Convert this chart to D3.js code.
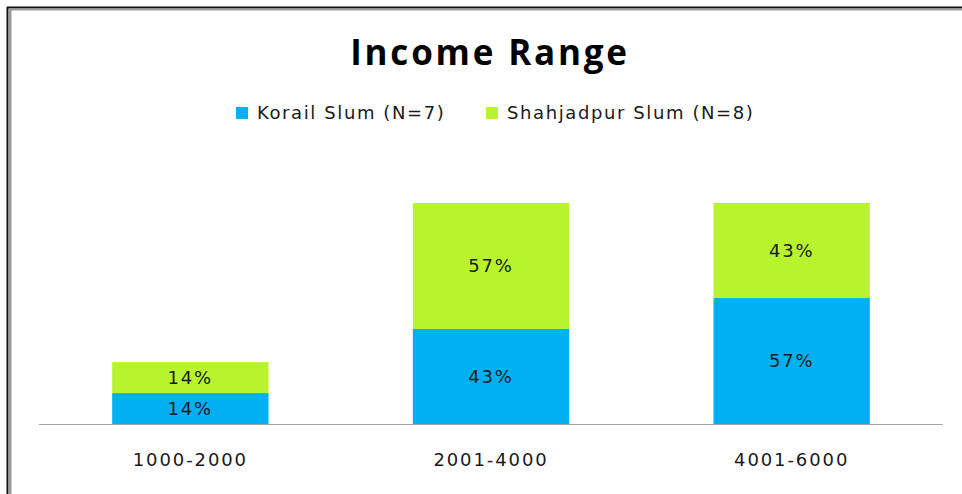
<!DOCTYPE html>
<html>
<head>
<meta charset="utf-8">
<script src="https://cdn.jsdelivr.net/npm/d3@7"></script>
<style>
  body { margin: 0; background: #fff; overflow: hidden; }
  svg { display: block; }
</style>
</head>
<body>
<div id="chart"></div>
<script>
// chart data
var categories = ["1000-2000", "2001-4000", "4001-6000"];
var seriesNames = ["Korail Slum (N=7)", "Shahjadpur Slum (N=8)"];
var korail = [14, 43, 57];
var shahjadpur = [14, 57, 43];
var colors = ["#00b0f0", "#b8f42e"];

var w = 962, h = 494;

var svg = d3.select("#chart").append("svg")
    .attr("width", w)
    .attr("height", h);

// frame round the chart (top and left edges only are visible)
svg.append("line").attr("x1", 7).attr("x2", w).attr("y1", 7.5).attr("y2", 7.5)
    .attr("stroke", "#111").attr("stroke-width", 2);
svg.append("line").attr("x1", 7.5).attr("x2", 7.5).attr("y1", 7).attr("y2", h)
    .attr("stroke", "#111").attr("stroke-width", 2);
svg.append("line").attr("x1", 9).attr("x2", w).attr("y1", 9.5).attr("y2", 9.5)
    .attr("stroke", "#9a9a9a").attr("stroke-width", 2);
svg.append("line").attr("x1", 10).attr("x2", 10).attr("y1", 9).attr("y2", h)
    .attr("stroke", "#9a9a9a").attr("stroke-width", 3);

// title
svg.append("text")
    .attr("x", 490).attr("y", 65)
    .attr("text-anchor", "middle")
    .style("font-family", "'Open Sans', sans-serif")
    .style("font-weight", "bold")
    .style("font-size", "35px")
    .style("letter-spacing", "2.8px")
    .attr("fill", "#000")
    .text("Income Range");

// stack the two series
var rows = categories.map(function(c, i){
    return { cat: c, k: korail[i], s: shahjadpur[i] };
});
var stack = d3.stack().keys(["k", "s"]);
var layers = stack(rows);

var x = d3.scaleBand().domain(categories).range([40, 942])
    .paddingInner(0.48).paddingOuter(0.24);
var y = d3.scaleLinear().domain([0, 100]).range([424, 203]);

var g = svg.append("g");
layers.forEach(function(layer, li){
    g.selectAll(".bar" + li)
        .data(layer)
        .enter()
        .append("rect")
        .attr("x", function(d){ return x(d.data.cat); })
        .attr("y", function(d){ return y(d[1]); })
        .attr("width", x.bandwidth())
        .attr("height", function(d){ return y(d[0]) - y(d[1]); })
        .attr("fill", colors[li]);
    g.selectAll(".lab" + li)
        .data(layer)
        .enter()
        .append("text")
        .attr("x", function(d){ return x(d.data.cat) + x.bandwidth() / 2; })
        .attr("y", function(d){ return (y(d[0]) + y(d[1])) / 2; })
        .attr("dy", "0.36em")
        .attr("text-anchor", "middle")
        .style("font-family", "'DejaVu Sans', sans-serif")
        .style("font-size", "18px")
        .style("letter-spacing", "1.8px")
        .attr("fill", "#1a1a1a")
        .text(function(d){ return (d[1] - d[0]) + "%"; });
});

// x axis
var xAxis = svg.append("g")
    .attr("transform", "translate(0,424)")
    .call(d3.axisBottom(x).tickSize(0).tickPadding(0));
xAxis.select(".domain").attr("d", "M39,0.5H943").attr("stroke", "#a6a6a6");
xAxis.selectAll("text")
    .attr("y", 36)
    .attr("dy", "0.36em")
    .style("font-family", "'DejaVu Sans', sans-serif")
    .style("font-size", "18px")
    .style("letter-spacing", "1.9px")
    .attr("fill", "#1a1a1a");

// legend
var legendX = [236, 486];
var legend = svg.selectAll(".legend")
    .data(seriesNames)
    .enter()
    .append("g")
    .attr("transform", function(d, i){ return "translate(" + legendX[i] + ",113)"; });
legend.append("rect")
    .attr("x", 0).attr("y", -6)
    .attr("width", 12).attr("height", 12)
    .attr("fill", function(d, i){ return colors[i]; });
legend.append("text")
    .attr("x", 21).attr("dy", "0.36em")
    .style("font-family", "'DejaVu Sans', sans-serif")
    .style("font-size", "18px")
    .style("letter-spacing", "1.6px")
    .attr("fill", "#1a1a1a")
    .text(function(d){ return d; });
</script>
</body>
</html>
